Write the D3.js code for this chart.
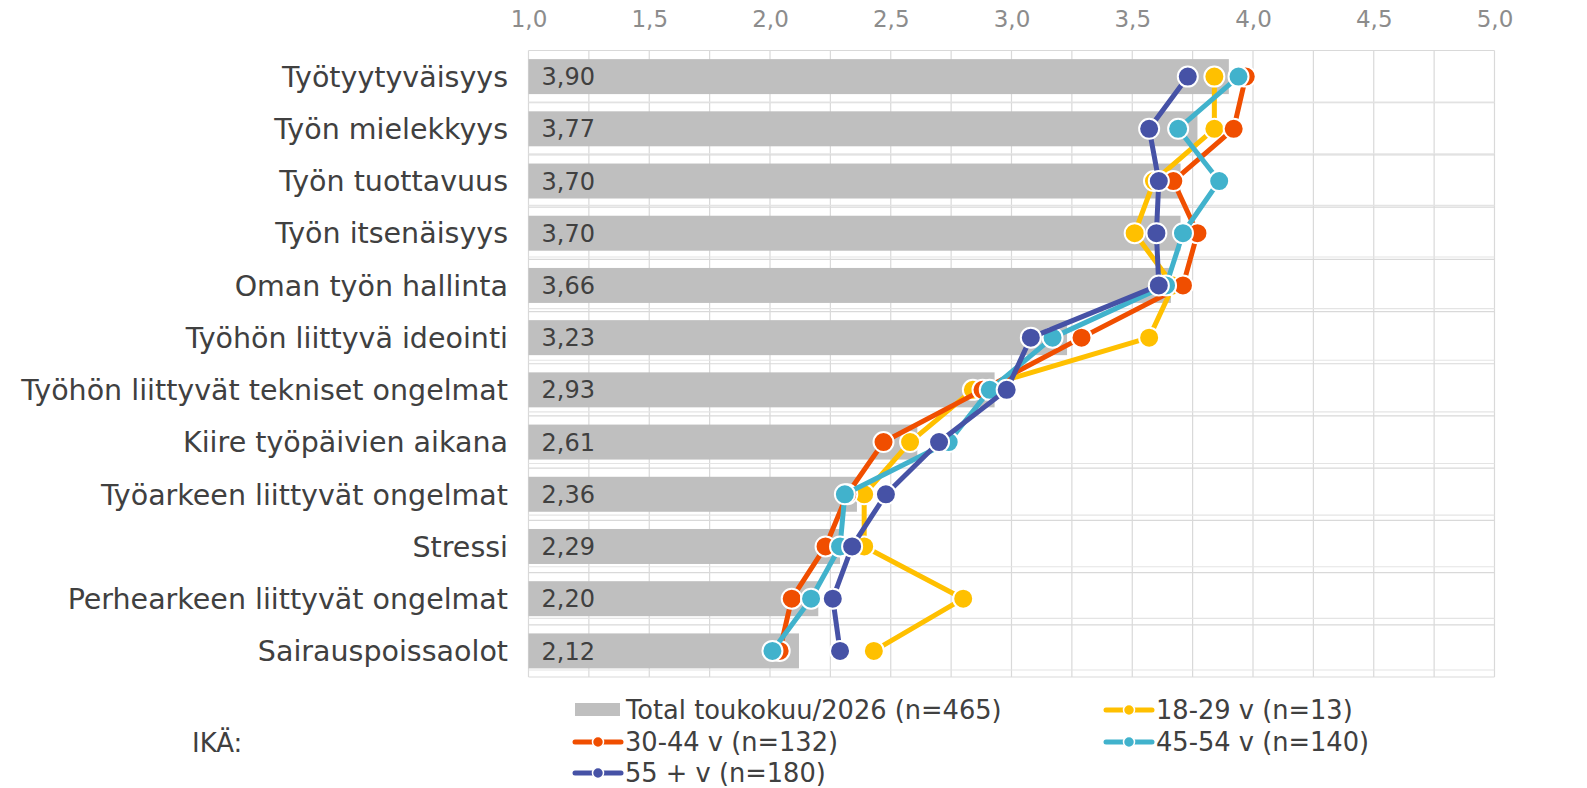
<!DOCTYPE html>
<html><head><meta charset="utf-8">
<script src="https://cdn.jsdelivr.net/npm/d3@7"></script>
<style>body{margin:0;background:#fff;} text{font-family:"DejaVu Sans",Verdana,sans-serif;}</style>
</head><body>
<svg id="chart" width="1587" height="788"></svg>
<script>
const categories = ["Työtyytyväisyys","Työn mielekkyys","Työn tuottavuus","Työn itsenäisyys","Oman työn hallinta","Työhön liittyvä ideointi","Työhön liittyvät tekniset ongelmat","Kiire työpäivien aikana","Työarkeen liittyvät ongelmat","Stressi","Perhearkeen liittyvät ongelmat","Sairauspoissaolot"];
const totalValues = [3.90,3.77,3.70,3.70,3.66,3.23,2.93,2.61,2.36,2.29,2.20,2.12];
const age18_29 = [3.84,3.84,3.59,3.51,3.67,3.57,2.84,2.58,2.39,2.39,2.80,2.43];
const age30_44 = [3.97,3.92,3.67,3.77,3.71,3.29,2.88,2.47,2.32,2.23,2.09,2.04];
const age45_54 = [3.94,3.69,3.86,3.71,3.64,3.17,2.91,2.74,2.31,2.29,2.17,2.01];
const age55 = [3.73,3.57,3.61,3.60,3.61,3.08,2.98,2.70,2.48,2.34,2.26,2.29];
const tickValues = [1.0,1.5,2.0,2.5,3.0,3.5,4.0,4.5,5.0];
const seriesNames = ["Total toukokuu/2026 (n=465)","18-29 v (n=13)","30-44 v (n=132)","45-54 v (n=140)","55 + v (n=180)"];
const legendTitle = "IKÄ:";

const series = [
  {name: seriesNames[1], values: age18_29, color: "#FFC000"},
  {name: seriesNames[2], values: age30_44, color: "#F04E00"},
  {name: seriesNames[3], values: age45_54, color: "#41B2CC"},
  {name: seriesNames[4], values: age55, color: "#4652A6"}
];
const fmt = v => d3.format(".2f")(v).replace(".", ",");
const fmt1 = v => d3.format(".1f")(v).replace(".", ",");

const svg = d3.select("#chart");
const plotTop = 50.5, plotBottom = 677;
const x = d3.scaleLinear().domain([1,5]).range([528.5,1494.5]);
const y = d3.scaleBand().domain(categories).range([plotTop,plotBottom]).padding(0);
const y2 = d3.scaleBand().domain(categories).range([plotTop,670]).padding(0);
const bw = y.bandwidth();

// grid
const g = svg.append("g");
g.selectAll(".vg").data(d3.range(1,5.001,0.25)).join("line")
  .attr("x1", d=>x(d)).attr("x2", d=>x(d)).attr("y1",plotTop).attr("y2",plotBottom)
  .attr("stroke","#D9D9D9").attr("stroke-width",1.2);
g.selectAll(".hg").data(d3.range(0,13)).join("line")
  .attr("x1", x(1)).attr("x2", x(5)).attr("y1", i=>plotTop+i*bw).attr("y2", i=>plotTop+i*bw)
  .attr("stroke","#D9D9D9").attr("stroke-width",1.2);
g.selectAll(".hg2").data(d3.range(1,13)).join("line")
  .attr("x1", x(1)).attr("x2", x(5)).attr("y1", i=>plotTop+i*y2.bandwidth()).attr("y2", i=>plotTop+i*y2.bandwidth())
  .attr("stroke","#E4E4E4").attr("stroke-width",1.2);

// top axis
const axis = d3.axisTop(x).tickValues(tickValues).tickFormat(fmt1).tickSize(0).tickPadding(0);
const ax = svg.append("g").attr("transform","translate(0,27)").call(axis);
ax.select(".domain").remove();
ax.selectAll("text").attr("font-size",23).attr("fill","#8C8C8C").attr("font-family","DejaVu Sans, Verdana, sans-serif");

// bars
const bh = bw*0.67;
svg.append("g").selectAll("rect").data(totalValues).join("rect")
  .attr("x", x(1)).attr("y", (d,i)=>y(categories[i])+(bw-bh)/2)
  .attr("width", d=>x(d)-x(1)).attr("height", bh).attr("fill","#BFBFBF");
svg.append("g").selectAll("text").data(totalValues).join("text")
  .attr("x", x(1)+13).attr("y", (d,i)=>y(categories[i])+bw/2).attr("dy","0.36em")
  .attr("font-size",24).attr("fill","#404040").text(d=>fmt(d));

// category labels
svg.append("g").selectAll("text").data(categories).join("text")
  .attr("x", 508).attr("y", d=>y(d)+bw/2).attr("dy","0.36em")
  .attr("text-anchor","end").attr("font-size",28.5).attr("fill","#404040").text(d=>d);

// lines
const line = d3.line().x(d=>x(d.v)).y(d=>y(d.c)+bw/2);
series.forEach(s=>{
  const pts = s.values.map((v,i)=>({v, c: categories[i]}));
  const sg = svg.append("g");
  sg.append("path").datum(pts).attr("d", line).attr("fill","none")
    .attr("stroke", s.color).attr("stroke-width",5).attr("stroke-linejoin","round");
  sg.selectAll("circle").data(pts).join("circle")
    .attr("cx", d=>x(d.v)).attr("cy", d=>y(d.c)+bw/2).attr("r",10)
    .attr("fill", s.color).attr("stroke","#fff").attr("stroke-width",2);
});

// legend
const lg = svg.append("g");
lg.append("text").attr("x",192).attr("y",743).attr("dy","0.36em").attr("font-size",26).attr("fill","#404040").text(legendTitle);
lg.append("rect").attr("x",575).attr("y",703).attr("width",45).attr("height",13).attr("fill","#BFBFBF");
lg.append("text").attr("x",626).attr("y",710).attr("dy","0.36em").attr("font-size",25.7).attr("fill","#404040").text(seriesNames[0]);
const lpos = [[1106,710],[575,742],[1106,742],[575,773]];
series.forEach((s,i)=>{
  const [lx,ly] = lpos[i];
  lg.append("line").attr("x1",lx).attr("x2",lx+46).attr("y1",ly).attr("y2",ly).attr("stroke",s.color).attr("stroke-width",5).attr("stroke-linecap","round");
  lg.append("circle").attr("cx",lx+23).attr("cy",ly).attr("r",5.5).attr("fill",s.color).attr("stroke","#fff").attr("stroke-width",1.5);
  lg.append("text").attr("x",lx+50).attr("y",ly).attr("dy","0.36em").attr("font-size",25.7).attr("fill","#404040").text(s.name);
});
</script>
</body></html>
